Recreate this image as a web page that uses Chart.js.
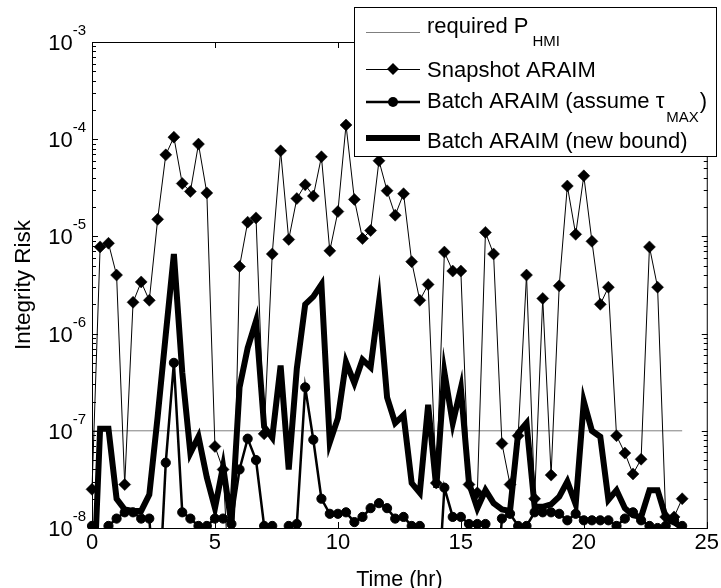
<!DOCTYPE html>
<html>
<head>
<meta charset="utf-8">
<script src="https://cdn.jsdelivr.net/npm/chart.js@4/dist/chart.umd.min.js"></script>
<style>
html,body{margin:0;padding:0;background:#fff;}
#wrap{width:721px;height:588px;position:relative;}
</style>
</head>
<body>
<div id="wrap"><canvas id="c" width="721" height="588"></canvas></div>
<script>
// ---- data ----
const timeHr = [0,0.33,0.67,1,1.33,1.67,2,2.33,2.67,3,3.33,3.67,4,4.33,4.67,5,5.33,5.67,6,6.33,6.67,7,7.33,7.67,8,8.33,8.67,9,9.33,9.67,10,10.33,10.67,11,11.33,11.67,12,12.33,12.67,13,13.33,13.67,14,14.33,14.67,15,15.33,15.67,16,16.33,16.67,17,17.33,17.67,18,18.33,18.67,19,19.33,19.67,20,20.33,20.67,21,21.33,21.67,22,22.33,22.67,23,23.33,23.67,24];

const snapshotARAIM = [
 2.5e-8, 7.8e-6, 8.5e-6, 4.0e-6, 2.8e-8, 2.1e-6, 3.4e-6, 2.2e-6, 1.5e-5, 6.9e-5,
 1.05e-4, 3.5e-5, 2.9e-5, 8.9e-5, 2.8e-5, 6.9e-8, 4.0e-8, 1e-9, 4.9e-6, 1.4e-5,
 1.55e-5, 9.3e-8, 6.6e-6, 7.6e-5, 9.3e-6, 2.45e-5, 3.4e-5, 2.6e-5, 6.6e-5, 7.1e-6,
 1.8e-5, 1.4e-4, 2.4e-5, 9.5e-6, 1.15e-5, 6.0e-5, 2.95e-5, 1.65e-5, 2.75e-5, 5.5e-6,
 2.2e-6, 3.2e-6, 2.9e-8, 6.9e-6, 4.4e-6, 4.4e-6, 2.8e-8, 2.3e-8, 1.1e-5, 6.6e-6,
 7.4e-8, 2.8e-8, 8.9e-8, 4.0e-6, 2.0e-8, 2.3e-6, 3.5e-8, 3.1e-6, 3.3e-5, 1.05e-5,
 4.2e-5, 8.9e-6, 2.0e-6, 3.0e-6, 8.9e-8, 5.9e-8, 3.6e-8, 5.1e-8, 7.8e-6, 3.0e-6,
 1.3e-8, 1.3e-8, 2.0e-8];

const batchAssumeTauMax = [
 1.05e-8, 1e-9, 1.05e-8, 1.25e-8, 1.45e-8, 1.45e-8, 1.25e-8, 1.25e-8, 1e-9, 4.7e-8,
 5.0e-7, 1.45e-8, 1.25e-8, 1.05e-8, 1.05e-8, 1.25e-8, 1.25e-8, 1.1e-8, 4.0e-8, 8.3e-8,
 5.0e-8, 1.05e-8, 1.05e-8, 1e-9, 1.05e-8, 1.1e-8, 2.8e-7, 8.1e-8, 2.0e-8, 1.4e-8,
 1.4e-8, 1.45e-8, 1.15e-8, 1.3e-8, 1.6e-8, 1.8e-8, 1.6e-8, 1.25e-8, 1.3e-8, 1.05e-8,
 1.05e-8, 1e-9, 1e-9, 2.6e-8, 1.3e-8, 1.3e-8, 1.1e-8, 1.1e-8, 1.1e-8, 1e-9,
 1.25e-8, 1.4e-8, 1.05e-8, 1.05e-8, 1.45e-8, 1.45e-8, 1.45e-8, 1.4e-8, 1.2e-8, 1.4e-8,
 1.2e-8, 1.2e-8, 1.2e-8, 1.2e-8, 1.05e-8, 1.25e-8, 1.45e-8, 1.2e-8, 1.05e-8, 1.0e-8,
 1.05e-8, 1.2e-8, 1.05e-8];

const batchNewBound = [
 1e-9, 1.05e-7, 1.05e-7, 2.0e-8, 1.55e-8, 1.5e-8, 1.5e-8, 2.2e-8, 1.4e-7, 9.8e-7,
 6.6e-6, 4.0e-7, 5.9e-8, 8.7e-8, 3.3e-8, 1.6e-8, 4.3e-8, 1.1e-8, 2.8e-7, 7.1e-7,
 1.35e-6, 1.1e-7, 8.5e-8, 4.7e-7, 4.0e-8, 4.4e-7, 2.0e-6, 2.4e-6, 3.2e-6, 7.6e-8,
 1.35e-7, 5.1e-7, 3.1e-7, 5.4e-7, 4.5e-7, 2.1e-6, 2.2e-7, 1.2e-7, 1.45e-7, 2.9e-8,
 2.3e-8, 1.85e-7, 2.6e-8, 4.0e-7, 1.2e-7, 2.75e-7, 2.9e-8, 1.6e-8, 2.45e-8, 1.8e-8,
 1.55e-8, 1.5e-8, 9.5e-8, 1.2e-7, 1.65e-8, 1.65e-8, 1.75e-8, 2.1e-8, 3.0e-8, 1.75e-8,
 2.0e-7, 1.0e-7, 8.7e-8, 1.95e-8, 2.45e-8, 1.6e-8, 1.35e-8, 1.3e-8, 2.45e-8, 2.45e-8,
 1.3e-8, 1.15e-8, 1.0e-8];

const requiredPHMI = 1e-7;
const pHMIRange = [0, 24];

const xTickValues = [0, 5, 10, 15, 20, 25];
const yDecades = [1e-8, 1e-7, 1e-6, 1e-5, 1e-4, 1e-3];
const yExponents = ['-8', '-7', '-6', '-5', '-4', '-3'];
const xAxisTitle = 'Time (hr)';
const yAxisTitle = 'Integrity Risk';

const legendEntries = [
  {main: 'required P', sub: 'HMI', tail: ''},
  {main: 'Snapshot ARAIM', sub: '', tail: ''},
  {main: 'Batch ARAIM (assume \u03C4', sub: 'MAX', tail: ')'},
  {main: 'Batch ARAIM (new bound)', sub: '', tail: ''}
];

// ---- chart ----
const FONT = "'Liberation Sans', Arial, Helvetica, sans-serif";
const toXY = arr => timeHr.map((t, i) => ({x: t, y: arr[i]}));
const clipArea = {left: 8, top: 8, right: 8, bottom: 1};

const framePlugin = {
  id: 'frameTicks',
  afterDatasetsDraw(chart) {
    const {ctx, chartArea: {left, right, top, bottom}, scales: {x, y}} = chart;
    ctx.save();
    ctx.strokeStyle = '#000';
    ctx.lineWidth = 1;
    ctx.strokeRect(left + 0.5, top + 0.5, right - left, bottom - top);
    ctx.beginPath();
    xTickValues.forEach(v => {
      const px = Math.round(x.getPixelForValue(v)) + 0.5;
      ctx.moveTo(px, bottom); ctx.lineTo(px, bottom - 6);
      ctx.moveTo(px, top); ctx.lineTo(px, top + 6);
    });
    yDecades.forEach((d, i) => {
      const mults = i === yDecades.length - 1 ? [1] : [1,2,3,4,5,6,7,8,9];
      mults.forEach(m => {
        const py = Math.round(y.getPixelForValue(d * m)) + 0.5;
        const len = m === 1 ? 6 : 4;
        ctx.moveTo(left, py); ctx.lineTo(left + len, py);
        ctx.moveTo(right + 1, py); ctx.lineTo(right + 1 - len, py);
      });
    });
    ctx.stroke();
    ctx.restore();
  },
  afterDraw(chart) {
    const {ctx, scales: {y}} = chart;
    ctx.save();
    ctx.fillStyle = '#000';
    ctx.textBaseline = 'alphabetic';
    ctx.textAlign = 'left';
    const xEnd = 86;
    yDecades.forEach((v, i) => {
      const py = y.getPixelForValue(v);
      ctx.font = '15px ' + FONT;
      const sw = ctx.measureText(yExponents[i]).width;
      ctx.font = '22px ' + FONT;
      const tw = ctx.measureText('10').width;
      ctx.fillText('10', xEnd - sw - tw, py + 8);
      ctx.font = '15px ' + FONT;
      ctx.fillText(yExponents[i], xEnd - sw, py - 7);
    });
    // legend
    const bx = 354, by = 7, bw = 362, bh = 149;
    ctx.fillStyle = '#fff';
    ctx.fillRect(bx, by, bw, bh);
    ctx.strokeStyle = '#000';
    ctx.lineWidth = 1;
    ctx.strokeRect(bx + 0.5, by + 0.5, bw, bh);
    const lineY = [32, 69, 102, 138];
    const textY = [25, 69, 100, 140];
    const subGap = [4, 0, 2, 0];
    const subDrop = [13, 0, 14, 0];
    const x0 = 366, x1 = 420, xm = 393, tx = 427;
    // row 0: required PHMI
    ctx.strokeStyle = 'rgba(0,0,0,0.5)';
    ctx.lineWidth = 1;
    ctx.beginPath(); ctx.moveTo(x0, lineY[0] + 0.5); ctx.lineTo(x1, lineY[0] + 0.5); ctx.stroke();
    // row 1: snapshot
    ctx.strokeStyle = '#000';
    ctx.beginPath(); ctx.moveTo(x0, lineY[1] + 0.5); ctx.lineTo(x1, lineY[1] + 0.5); ctx.stroke();
    ctx.fillStyle = '#000';
    ctx.beginPath(); ctx.moveTo(xm - 6, lineY[1]); ctx.lineTo(xm, lineY[1] - 6); ctx.lineTo(xm + 6, lineY[1]); ctx.lineTo(xm, lineY[1] + 6); ctx.closePath(); ctx.fill();
    // row 2: batch assume
    ctx.lineWidth = 2.5;
    ctx.beginPath(); ctx.moveTo(x0, lineY[2]); ctx.lineTo(x1, lineY[2]); ctx.stroke();
    ctx.beginPath(); ctx.arc(xm, lineY[2], 5, 0, Math.PI * 2); ctx.fill();
    // row 3: batch new
    ctx.lineWidth = 6;
    ctx.beginPath(); ctx.moveTo(x0, lineY[3]); ctx.lineTo(x1, lineY[3]); ctx.stroke();
    // texts
    legendEntries.forEach((e, i) => {
      const base = textY[i] + 8;
      ctx.font = '22px ' + FONT;
      ctx.fillText(e.main, tx, base);
      let cx = tx + ctx.measureText(e.main).width;
      if (e.sub) {
        cx += subGap[i];
        ctx.font = '15px ' + FONT;
        ctx.fillText(e.sub, cx, base + subDrop[i]);
        cx += ctx.measureText(e.sub).width;
      }
      if (e.tail) {
        ctx.font = '22px ' + FONT;
        ctx.fillText(e.tail, cx + 1, base);
      }
    });
    ctx.restore();
  }
};

new Chart(document.getElementById('c'), {
  type: 'line',
  data: {
    datasets: [
      {
        label: 'Batch ARAIM (new bound)',
        data: toXY(batchNewBound),
        borderColor: '#000', backgroundColor: '#000',
        borderWidth: 6, pointRadius: 0, tension: 0,
        borderJoinStyle: 'miter', order: 0, clip: clipArea
      },
      {
        label: 'Batch ARAIM (assume \u03C4MAX)',
        data: toXY(batchAssumeTauMax),
        borderColor: '#000', backgroundColor: '#000',
        borderWidth: 2.5, pointRadius: 4.6, pointBorderWidth: 1,
        pointBackgroundColor: '#000', pointBorderColor: '#000',
        pointStyle: 'circle', tension: 0, order: 1, clip: clipArea
      },
      {
        label: 'Snapshot ARAIM',
        data: toXY(snapshotARAIM),
        borderColor: '#000', backgroundColor: '#000',
        borderWidth: 1, pointRadius: 6, pointBorderWidth: 0.5,
        pointBackgroundColor: '#000', pointBorderColor: '#000',
        pointStyle: 'rectRot', tension: 0, order: 2, clip: clipArea
      },
      {
        label: 'required PHMI',
        data: pHMIRange.map(t => ({x: t, y: requiredPHMI})),
        borderColor: 'rgba(0,0,0,0.5)', borderWidth: 1,
        pointRadius: 0, order: 3, clip: clipArea
      }
    ]
  },
  options: {
    responsive: false,
    animation: false,
    events: [],
    layout: {padding: {left: 0, right: 11, top: 42, bottom: 0}},
    plugins: {legend: {display: false}, tooltip: {enabled: false}},
    scales: {
      x: {
        type: 'linear', min: 0, max: 25,
        ticks: {stepSize: 5, color: '#000', font: {family: FONT, size: 22}, padding: 2, maxRotation: 0},
        grid: {display: false, drawTicks: false},
        border: {display: false},
        title: {display: true, text: xAxisTitle, color: '#000', font: {family: FONT, size: 21.5}, padding: {top: 0, bottom: -5}},
        afterFit(s) { s.height = 60; }
      },
      y: {
        type: 'logarithmic', min: 1e-8, max: 1e-3,
        ticks: {display: false},
        grid: {display: false, drawTicks: false},
        border: {display: false},
        title: {display: true, text: yAxisTitle, color: '#000', font: {family: FONT, size: 22.5}, padding: {top: 10, bottom: 0}},
        afterFit(s) { s.width = 92; }
      }
    }
  },
  plugins: [framePlugin]
});
</script>
</body>
</html>
